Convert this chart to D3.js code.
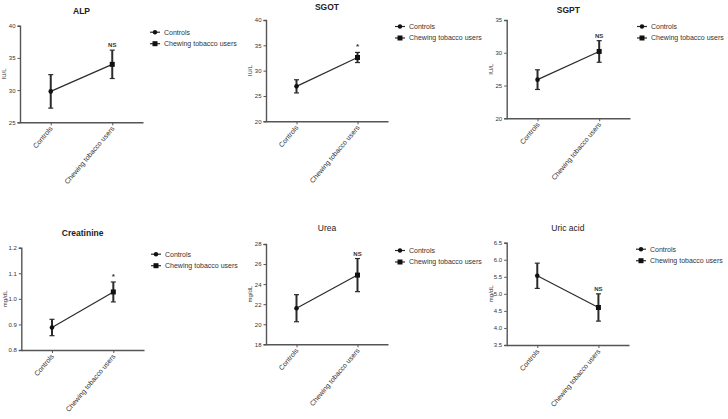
<!DOCTYPE html>
<html>
<head>
<meta charset="utf-8">
<script src="https://cdn.jsdelivr.net/npm/d3@7"></script>
<style>
  body { margin: 0; background: #fff; }
  svg { display: block; font-family: "Liberation Sans", Arial, sans-serif; }
</style>
</head>
<body>
<div id="chart"></div>
<script>
// valores
var tests = ["ALP", "SGOT", "SGPT", "Creatinine", "Urea", "Uric acid"];
var units = ["IU/L", "IU/L", "IU/L", "mg/dL", "mg/dL", "mg/dL"];
var groups = ["Controls", "Chewing tobacco users"];
var controlMeans = [29.8, 26.9, 25.9, 0.888, 21.6, 5.53];
var controlErr = [2.6, 1.3, 1.5, 0.032, 1.35, 0.37];
var chewingMeans = [34.0, 32.6, 30.2, 1.027, 24.9, 4.6];
var chewingErr = [2.2, 1.0, 1.65, 0.039, 1.65, 0.4];
var signif = ["NS", "*", "NS", "*", "NS", "NS"];
var yDomains = [[25, 40], [20, 40], [20, 35], [0.8, 1.2], [18, 28], [3.5, 6.5]];
var yTicks = [
  [25, 30, 35, 40],
  [20, 25, 30, 35, 40],
  [20, 25, 30, 35],
  [0.8, 0.9, 1.0, 1.1, 1.2],
  [18, 20, 22, 24, 26, 28],
  [3.5, 4.0, 4.5, 5.0, 5.5, 6.0, 6.5]
];
var tickFormats = ["d", "d", "d", ".1f", "d", ".1f"];

// posicion de cada panel
var layout = [
  {x0: 20,    x1: 143, top: 25.7,  bottom: 122.3, titleY: 14, bold: true},
  {x0: 266,   x1: 388, top: 20,    bottom: 121.3, titleY: 10, bold: true},
  {x0: 506.7, x1: 630, top: 20,    bottom: 118.3, titleY: 13, bold: true},
  {x0: 21.3,  x1: 144, top: 247.7, bottom: 350,   titleY: 236, bold: true},
  {x0: 266,   x1: 388, top: 244,   bottom: 344.3, titleY: 231, bold: false},
  {x0: 506.7, x1: 629, top: 242.7, bottom: 345,   titleY: 231, bold: false}
];

var svg = d3.select("#chart").append("svg")
    .attr("width", 728)
    .attr("height", 419);

var ink = "#2b2b2b";

tests.forEach(function(name, i) {
  var L = layout[i];
  var g = svg.append("g").attr("class", "panel");

  var x = d3.scalePoint().domain(groups).range([L.x0, L.x1]).padding(0.5);
  var y = d3.scaleLinear().domain(yDomains[i]).range([L.bottom, L.top]);

  var pts = [
    {grp: groups[0], m: controlMeans[i], e: controlErr[i]},
    {grp: groups[1], m: chewingMeans[i], e: chewingErr[i]}
  ];

  // eje y
  var ya = g.append("g")
      .attr("transform", "translate(" + L.x0 + ",0)")
      .call(d3.axisLeft(y).tickValues(yTicks[i]).tickSize(2.5).tickPadding(2).tickFormat(d3.format(tickFormats[i])));
  ya.select(".domain").attr("stroke", "#555").attr("stroke-width", 1.4);
  ya.selectAll(".tick line").attr("stroke", "#555").attr("stroke-width", 1);
  ya.selectAll(".tick text").attr("fill", "#333").style("font-size", "6px").style("font-family", "Liberation Sans, Arial");

  // eje x
  var xa = g.append("g")
      .attr("transform", "translate(0," + L.bottom + ")")
      .call(d3.axisBottom(x).tickSize(3).tickSizeOuter(0));
  xa.select(".domain").attr("stroke", "#555").attr("stroke-width", 1.4);
  xa.selectAll(".tick line").attr("stroke", "#555").attr("stroke-width", 1);
  xa.selectAll(".tick text")
      .attr("fill", "#333")
      .attr("text-anchor", "end")
      .attr("dy", "0.35em")
      .attr("transform", "translate(0,5) rotate(-50)")
      .attr("x", 0).attr("y", 0)
      .style("font-size", "7px")
      .style("font-family", "Liberation Sans, Arial");

  // titulo
  g.append("text")
      .attr("x", (L.x0 + L.x1) / 2)
      .attr("y", L.titleY)
      .attr("text-anchor", "middle")
      .attr("fill", "#222")
      .style("font-size", "8.5px")
      .style("font-weight", L.bold ? "bold" : "normal")
      .text(name);

  // unidad
  g.append("text")
      .attr("transform", "translate(" + (L.x0 - 14) + "," + ((L.top + L.bottom) / 2) + ") rotate(-90)")
      .attr("text-anchor", "middle")
      .attr("fill", "#333")
      .style("font-size", "6px")
      .text(units[i]);

  // linea entre medias
  g.append("path")
      .datum(pts)
      .attr("fill", "none")
      .attr("stroke", ink)
      .attr("stroke-width", 1.2)
      .attr("d", d3.line().x(function(d) { return x(d.grp); }).y(function(d) { return y(d.m); }));

  // barras de error
  var eb = g.selectAll(".err").data(pts).enter().append("g").attr("class", "err");
  eb.append("line")
      .attr("x1", function(d) { return x(d.grp); })
      .attr("x2", function(d) { return x(d.grp); })
      .attr("y1", function(d) { return y(d.m + d.e); })
      .attr("y2", function(d) { return y(d.m - d.e); })
      .attr("stroke", ink).attr("stroke-width", 2);
  [1, -1].forEach(function(s) {
    eb.append("line")
        .attr("x1", function(d) { return x(d.grp) - 2.5; })
        .attr("x2", function(d) { return x(d.grp) + 2.5; })
        .attr("y1", function(d) { return y(d.m + s * d.e); })
        .attr("y2", function(d) { return y(d.m + s * d.e); })
        .attr("stroke", ink).attr("stroke-width", 1.2);
  });

  // marcadores
  g.append("circle")
      .attr("cx", x(groups[0])).attr("cy", y(controlMeans[i]))
      .attr("r", 2.3).attr("fill", "#111");
  g.append("rect")
      .attr("x", x(groups[1]) - 2.5).attr("y", y(chewingMeans[i]) - 2.5)
      .attr("width", 5).attr("height", 5).attr("fill", "#111");

  // significancia
  var hi = pts[1];
  g.append("text")
      .attr("x", x(hi.grp))
      .attr("y", y(hi.m + hi.e) - 3)
      .attr("text-anchor", "middle")
      .attr("fill", "#333")
      .style("font-size", signif[i] === "*" ? "8px" : "6px")
      .style("font-weight", "bold")
      .text(signif[i]);

  // leyenda
  var lg = g.append("g")
      .attr("transform", "translate(" + (L.x1 + 7) + "," + (L.top + 6.5) + ")");
  groups.forEach(function(gr, k) {
    var row = lg.append("g").attr("transform", "translate(0," + (k * 11.5) + ")");
    row.append("line").attr("x1", 0).attr("x2", 10).attr("y1", 0).attr("y2", 0)
        .attr("stroke", ink).attr("stroke-width", 1.2);
    if (k === 0) {
      row.append("circle").attr("cx", 5).attr("cy", 0).attr("r", 2.2).attr("fill", "#111");
    } else {
      row.append("rect").attr("x", 2.5).attr("y", -2.5).attr("width", 5).attr("height", 5).attr("fill", "#111");
    }
    row.append("text")
        .attr("x", 14).attr("y", 0).attr("dy", "0.35em")
        .attr("fill", "#333")
        .style("font-size", "7px")
        .text(gr);
  });
});
</script>
</body>
</html>
